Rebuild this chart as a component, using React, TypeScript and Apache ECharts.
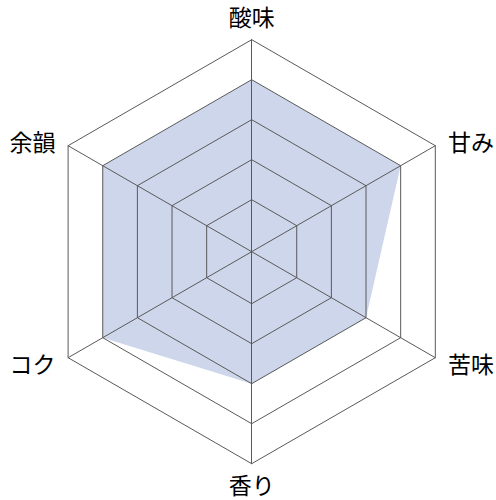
import { useEffect, useRef } from 'react';
import * as echarts from 'echarts';

// 軸の順番（上から反時計回り）
const indicatorNames = ['酸味', '余韻', 'コク', '香り', '苦味', '甘み'];
const tasteValues = [4, 4, 4, 3, 3, 4];
const ringLevels = [1, 2, 3, 4, 5];
const axisMin = -0.3;
const axisMax = 5;

const OUTER_RADIUS = 212;
const CENTER = [251.7, 251.7];
const LINE_COLOR = '#595959';

// ラベルの位置ごとの余白
const nameStyleKey: Record<string, string> = {
  酸味: 't',
  余韻: 'l',
  コク: 'l',
  香り: 'b',
  苦味: 'r',
  甘み: 'r',
};

const App: React.FC = () => {
  const chartRef = useRef<HTMLDivElement>(null);

  useEffect(() => {
    if (!chartRef.current) return;
    const chart = echarts.init(chartRef.current, undefined, { renderer: 'svg' });

    const ringRadius = (lvl: number) =>
      (OUTER_RADIUS * (lvl - axisMin)) / (axisMax - axisMin);

    const baseText = {
      color: '#000',
      fontSize: 23,
      lineHeight: 20,
      fontFamily: 'Noto Sans CJK JP',
    };

    // 目盛りの輪はレベルごとに1つのレーダーで描く
    const radars = ringLevels
      .slice()
      .reverse()
      .map((lvl, i) => {
        const outer = i === 0;
        return {
          center: CENTER,
          radius: ringRadius(lvl),
          startAngle: 90,
          splitNumber: 1,
          shape: 'polygon',
          z: 3,
          indicator: indicatorNames.map((name) => ({
            name: outer ? name : '',
            min: axisMin,
            max: axisMax,
          })),
          axisName: {
            show: outer,
            ...baseText,
            formatter: (name: string) => `{${nameStyleKey[name] || 'b'}|${name}}`,
            rich: {
              t: { ...baseText, padding: [0, 0, 8, 0] },
              b: { ...baseText },
              l: { ...baseText, padding: [0, 4, 0, 0] },
              r: { ...baseText, padding: [0, 0, 0, 4] },
            },
          },
          nameGap: 10,
          axisLine: { show: outer, lineStyle: { color: LINE_COLOR, width: 1 } },
          splitLine: { show: true, lineStyle: { color: LINE_COLOR, width: 1 } },
          splitArea: { show: false },
          axisTick: { show: false },
          axisLabel: { show: false },
        };
      });

    chart.setOption({
      animation: false,
      radar: radars,
      series: [
        {
          type: 'radar',
          radarIndex: 0,
          z: 1,
          symbol: 'none',
          lineStyle: { width: 0 },
          areaStyle: { color: '#cdd6ea', opacity: 1 },
          data: [{ value: tasteValues, name: '味' }],
        },
      ],
    });

    return () => {
      chart.dispose();
    };
  }, []);

  return (
    <div
      ref={chartRef}
      style={{
        position: 'fixed',
        left: 0,
        top: 0,
        width: '496px',
        height: '500px',
        background: '#fff',
      }}
    />
  );
};

export default App;
